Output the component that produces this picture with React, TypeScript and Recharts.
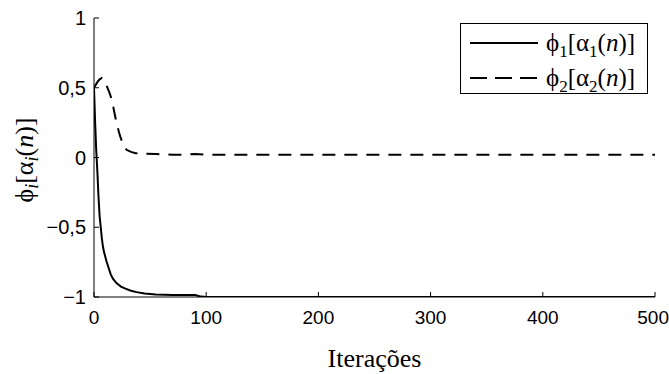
import React from "react";
import { LineChart, Line, XAxis, YAxis, Label } from "recharts";

// phi1[alpha1(n)]
const phi1Iter = [0, 1, 2, 3, 4, 5, 6, 7, 8, 9, 10, 11, 13, 15, 17, 20, 24, 28, 33, 38, 45, 55, 70, 90, 94, 100, 500];
const phi1Vals = [0.5, 0.25, 0.05, -0.1, -0.28, -0.42, -0.5, -0.58, -0.64, -0.68, -0.71, -0.74, -0.79, -0.84, -0.87, -0.9, -0.925, -0.94, -0.955, -0.965, -0.975, -0.982, -0.985, -0.985, -0.995, -1, -1];

// phi2[alpha2(n)]
const phi2Iter = [0, 3, 5, 7, 9, 11, 14, 16, 18, 20, 23, 26, 29, 33, 37, 45, 55, 70, 80, 90, 100, 500];
const phi2Vals = [0.5, 0.54, 0.56, 0.57, 0.55, 0.52, 0.46, 0.41, 0.33, 0.25, 0.16, 0.09, 0.055, 0.04, 0.03, 0.028, 0.025, 0.02, 0.02, 0.025, 0.02, 0.02];

const xTicks = [0, 100, 200, 300, 400, 500];
const yTicks = [-1, -0.5, 0, 0.5, 1];

const phi1Data = phi1Iter.map((n, i) => ({ n, v: phi1Vals[i] }));
const phi2Data = phi2Iter.map((n, i) => ({ n, v: phi2Vals[i] }));

const sans = "'Liberation Sans', Arial, sans-serif";
const serif = "'Liberation Serif', 'Times New Roman', serif";

const fmtY = (v: number) => String(v).replace(".", ",").replace("-", "\u2212");

// x tick text; the last one is kept inside the page
function XTick(props: any) {
  const { x, y, payload } = props;
  const last = payload.value === 500;
  return (
    <text
      x={last ? x + 14 : x}
      y={y}
      dy="0.71em"
      textAnchor={last ? "end" : "middle"}
      fontFamily={sans}
      fontSize={19}
      fill="#000"
    >
      {payload.value}
    </text>
  );
}

function YLabel() {
  return (
    <text
      x={0}
      y={0}
      transform="translate(33,160) rotate(-90)"
      textAnchor="middle"
      fontFamily={serif}
      fontSize={26}
      fill="#000"
    >
      ϕ
      <tspan fontStyle="italic" fontSize={18} dy={5}>i</tspan>
      <tspan dy={-5}>[α</tspan>
      <tspan fontStyle="italic" fontSize={18} dy={5}>i</tspan>
      <tspan dy={-5}>(</tspan>
      <tspan fontStyle="italic">n</tspan>
      <tspan>)]</tspan>
    </text>
  );
}

function LegendBox() {
  const row = (k: string, dash: boolean, top: number) => (
    <div style={{ position: "absolute", left: 9, top, display: "flex", alignItems: "center", height: 30 }}>
      <svg width={68} height={10} style={{ marginRight: 8 }}>
        <line
          x1={0}
          y1={5}
          x2={68}
          y2={5}
          stroke="#000"
          strokeWidth={2}
          strokeDasharray={dash ? "17 8" : undefined}
        />
      </svg>
      <span style={{ fontFamily: serif, fontSize: 25, whiteSpace: "nowrap", lineHeight: "30px" }}>
        ϕ<sub style={{ fontSize: 17, lineHeight: 0 }}>{k}</sub>[α<sub style={{ fontSize: 17, lineHeight: 0 }}>{k}</sub>(<i>n</i>)]
      </span>
    </div>
  );
  return (
    <div
      style={{
        position: "absolute",
        left: 460,
        top: 23,
        width: 188,
        height: 71,
        border: "1px solid #000",
        background: "#fff",
        boxSizing: "border-box",
      }}
    >
      {row("1", false, 4)}
      {row("2", true, 39)}
    </div>
  );
}

export default function App() {
  return (
    <div style={{ position: "absolute", left: 0, top: 0, width: 669, height: 374, background: "#fff" }}>
      <LineChart
        width={669}
        height={374}
        margin={{ top: 18, right: 14, left: 0, bottom: 0 }}
      >
        <XAxis
          dataKey="n"
          type="number"
          domain={[0, 500]}
          ticks={xTicks}
          allowDataOverflow
          height={77}
          tickSize={-5}
          tickMargin={19}
          tick={<XTick />}
          stroke="#000"
        >
          <Label
            value="Iterações"
            position="insideBottom"
            offset={7}
            style={{ fontFamily: serif, fontSize: 26, fill: "#000" }}
          />
        </XAxis>
        <XAxis
          xAxisId="top"
          orientation="top"
          dataKey="n"
          type="number"
          domain={[0, 500]}
          ticks={xTicks}
          height={0}
          tick={false}
          stroke="#000"
        />
        <YAxis
          type="number"
          domain={[-1, 1]}
          ticks={yTicks}
          allowDataOverflow
          width={94}
          tickSize={-5}
          tickMargin={13}
          tickFormatter={fmtY}
          tick={{ fill: "#000", fontFamily: sans, fontSize: 20 }}
          stroke="#000"
          label={<YLabel />}
        />
        <YAxis
          yAxisId="right"
          orientation="right"
          type="number"
          domain={[-1, 1]}
          ticks={yTicks}
          width={0}
          tick={false}
          stroke="#000"
        />
        <Line
          data={phi1Data}
          dataKey="v"
          type="linear"
          stroke="#000"
          strokeWidth={2}
          dot={false}
          isAnimationActive={false}
        />
        <Line
          data={phi2Data}
          dataKey="v"
          type="linear"
          stroke="#000"
          strokeWidth={2}
          strokeDasharray="13 9"
          dot={false}
          isAnimationActive={false}
        />
      </LineChart>
      <LegendBox />
    </div>
  );
}
